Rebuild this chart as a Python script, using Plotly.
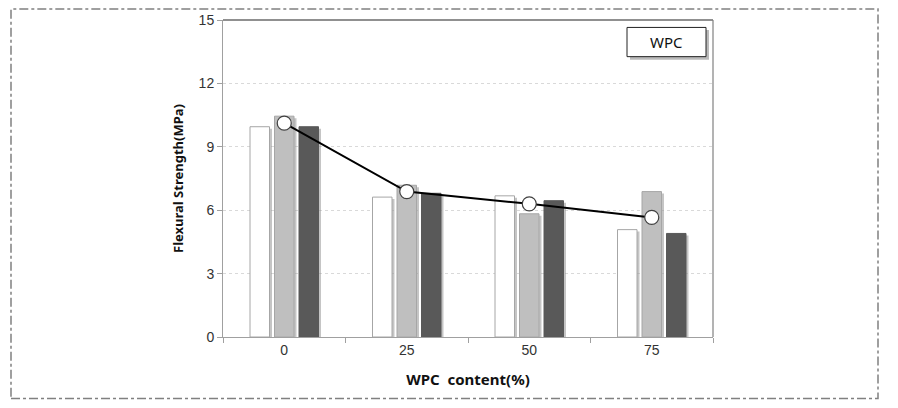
import plotly.graph_objects as go

categories = ["0", "25", "50", "75"]
series_white = [9.95, 6.62, 6.68, 5.08]
series_light = [10.45, 7.18, 5.83, 6.88]
series_dark = [9.95, 6.80, 6.45, 4.90]
line_mean = [10.12, 6.88, 6.30, 5.66]
y_ticks = [0, 3, 6, 9, 12, 15]

W, H = 898, 408
L, R, T, B = 223, 185, 17, 71
pw, ph = W - L - R, H - T - B
cat_px = pw / len(categories)
bw = 19.5 / cat_px
shadow_dx = 2.5 / cat_px
shadow_dy = 15 * 2 / ph

fig = go.Figure()

specs = [
    (series_white, "#ffffff", "#a6a6a6", -0.2),
    (series_light, "#bfbfbf", "#a6a6a6", 0.0),
    (series_dark, "#595959", "#595959", 0.2),
]
# shadows
for vals, fill, line, c in specs:
    fig.add_trace(go.Bar(
        x=categories, y=[v - shadow_dy for v in vals],
        width=bw, offset=c - bw / 2 + shadow_dx,
        marker=dict(color="rgba(150,150,150,0.55)", line=dict(width=0)),
        showlegend=False, hoverinfo="skip"))
for vals, fill, line, c in specs:
    fig.add_trace(go.Bar(
        x=categories, y=vals, width=bw, offset=c - bw / 2,
        marker=dict(color=fill, line=dict(color=line, width=1)),
        showlegend=False))

fig.add_trace(go.Scatter(
    x=categories, y=line_mean, mode="lines+markers",
    line=dict(color="#000000", width=2),
    marker=dict(size=14, color="#ffffff", line=dict(color="#404040", width=1.2)),
    showlegend=False))

axis_font = dict(family="Liberation Sans, Arial, sans-serif", size=14, color="#333333")

fig.update_layout(
    width=W, height=H,
    margin=dict(l=L, r=R, t=T, b=B),
    paper_bgcolor="white", plot_bgcolor="white",
    barmode="overlay",
    font=axis_font,
    xaxis=dict(
        type="category", range=[-0.5, 3.5],
        showline=True, linecolor="#a0a0a0", linewidth=1, mirror=False,
        ticks="outside", tickson="boundaries", ticklen=5, tickcolor="#a0a0a0",
        showgrid=False, tickfont=axis_font,
        title=dict(text="<b>WPC  content(%)</b>", standoff=17,
                   font=dict(family="Noto Sans, sans-serif", size=15, color="#111111")),
    ),
    yaxis=dict(
        range=[0, 15], tickvals=y_ticks,
        showline=True, linecolor="#a0a0a0", linewidth=1,
        ticks="outside", ticklen=5, tickcolor="#a0a0a0",
        showgrid=True, gridcolor="#d9d9d9", griddash="dot", gridwidth=1,
        zeroline=False, tickfont=axis_font,
        title=dict(text="<b>Flexural Strength(MPa)</b>", standoff=12,
                   font=dict(family="Noto Sans, sans-serif", size=13, color="#111111")),
    ),
)

def px_x(px):
    return (px - L) / pw

def px_y(py):
    return (H - B - py) / ph

shapes = [
    # top border (black) and right border (gray)
    dict(type="line", xref="paper", yref="paper", x0=0, x1=1, y0=1, y1=1,
         line=dict(color="#222222", width=1.2)),
    dict(type="line", xref="paper", yref="paper", x0=1, x1=1, y0=0, y1=1,
         line=dict(color="#808080", width=1.2)),
    # outer dash-dot frame
    dict(type="rect", xref="paper", yref="paper",
         x0=px_x(11), x1=px_x(878), y0=px_y(399), y1=px_y(6),
         line=dict(color="#808080", width=1.5, dash="dashdot"), layer="below"),
    # legend box shadow
    dict(type="rect", xref="paper", yref="paper",
         x0=px_x(630), x1=px_x(709), y0=px_y(57), y1=px_y(27),
         line=dict(width=0), fillcolor="rgba(140,140,140,0.6)"),
    dict(type="rect", xref="paper", yref="paper",
         x0=px_x(627), x1=px_x(706), y0=px_y(54), y1=px_y(24.5),
         line=dict(color="#222222", width=1), fillcolor="white"),
]
fig.update_layout(shapes=shapes)

fig.add_annotation(
    xref="paper", yref="paper", x=px_x(666.5), y=px_y(39.5),
    text="WPC", showarrow=False,
    font=dict(family="Noto Sans, sans-serif", size=15, color="#111111"),
    xanchor="center", yanchor="middle")

fig.write_html("out.html")
